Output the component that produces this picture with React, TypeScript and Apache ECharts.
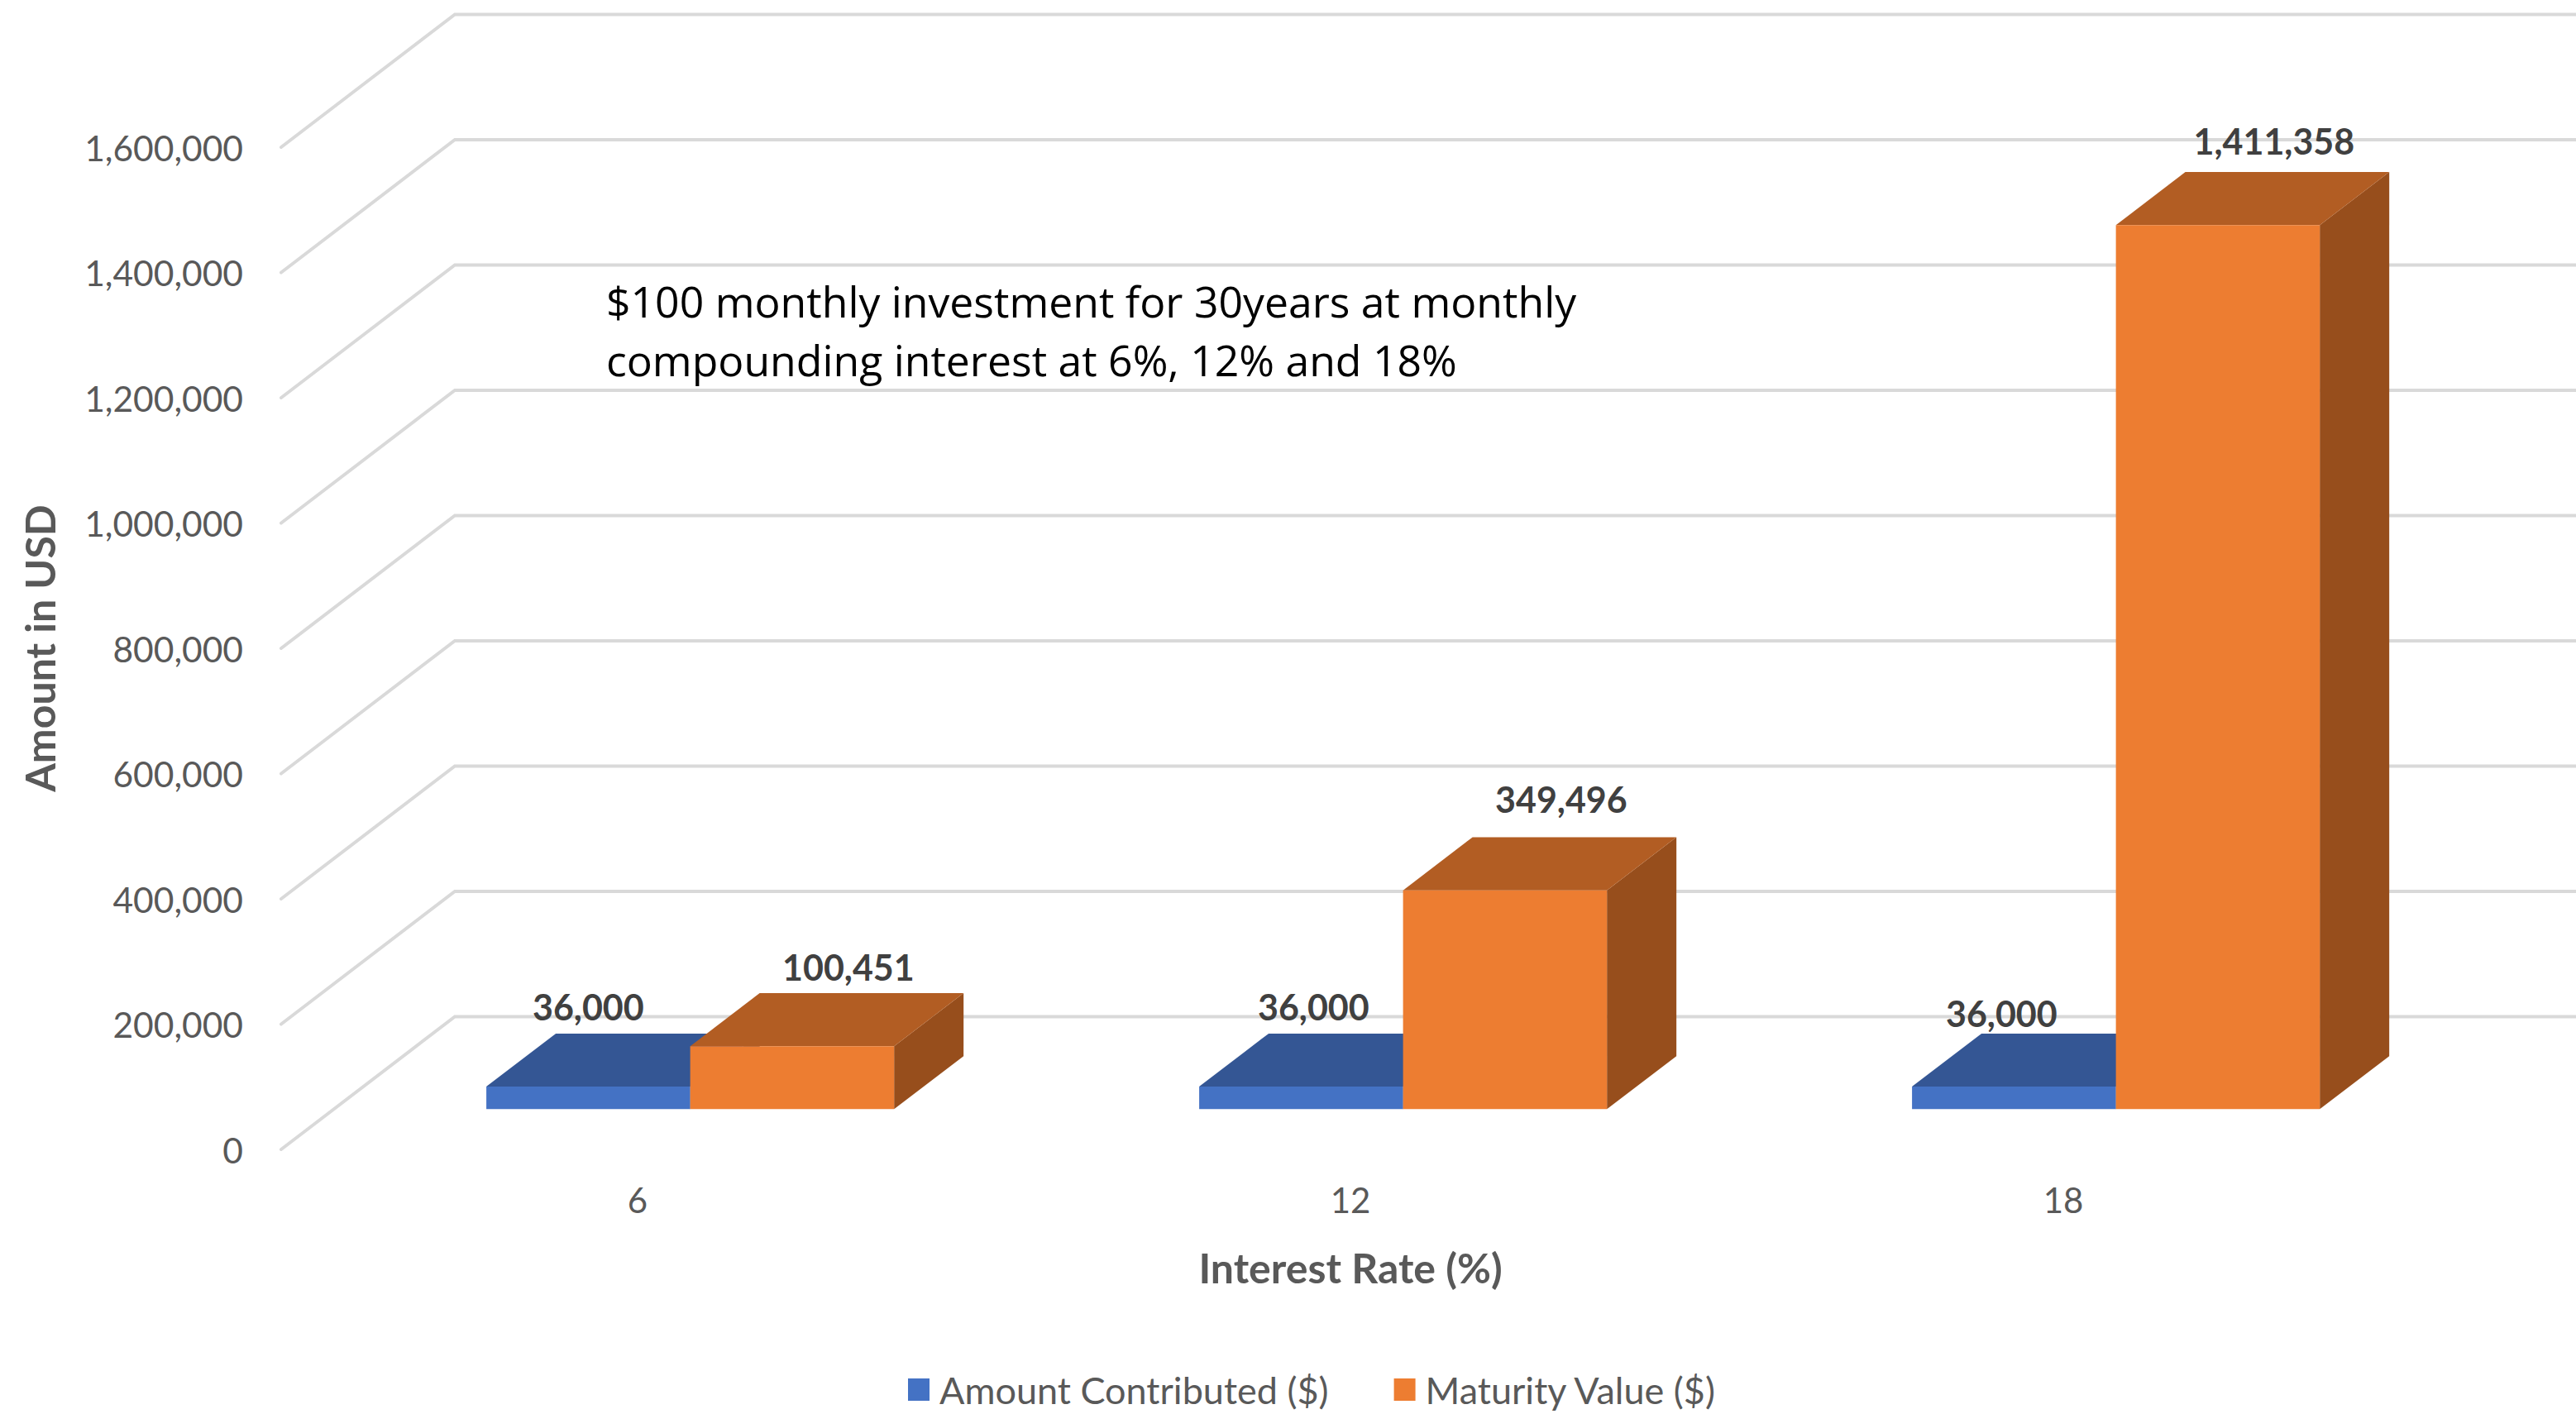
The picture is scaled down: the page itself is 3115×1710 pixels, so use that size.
import React, { useEffect, useRef } from "react";
import * as echarts from "echarts";

const rates = ["6", "12", "18"];
const amountContributed = [36000, 36000, 36000];
const maturityValue = [100451, 349496, 1411358];
const yTicks = [0, 200000, 400000, 600000, 800000, 1000000, 1200000, 1400000, 1600000];
const seriesNames = ["Amount Contributed ($)", "Maturity Value ($)"];
const noteLines = [
  "$100 monthly investment for 30years at monthly",
  "compounding interest at 6%, 12% and 18%",
];

const W = 3115;
const H = 1710;
const GRID = { left: 340, right: 2926, top: 178, bottom: 1390 };
const WALL_DX = 210;
const WALL_DY = 160.5;
const BAR_DEPTH = 0.4;
const BAR_START = 0.303;
const BAR_BAND = 0.286;
const FONT = "Lato, sans-serif";

const blue = { front: "#4472C4", top: "#345694", side: "#2A4779" };
const orange = { front: "#ED7D31", top: "#B25D23", side: "#974E1C" };

// hand-placed data-label nudges relative to the top-back edge of each bar
const blueLabelNudge = [[0, -32], [15, -32], [-15, -24]];
const orangeLabelNudge = [[68, -32], [68, -46], [68, -38]];

const fmt = (v: number) => v.toLocaleString("en-US");

function wallItem(_: any, api: any) {
  const v = api.value(1);
  const p = api.coord([0, v]);
  const y = p[1];
  return {
    type: "polyline",
    silent: true,
    shape: {
      points: [
        [GRID.left, y],
        [GRID.left + WALL_DX, y - WALL_DY],
        [W + 10, y - WALL_DY],
      ],
    },
    style: { stroke: "#D9D9D9", lineWidth: 4, fill: null, lineCap: "round", lineJoin: "miter" },
  };
}

function barItem(side: -1 | 0, colors: any, nudges: number[][]) {
  return (params: any, api: any) => {
    const idx = api.value(0);
    const v = api.value(1);
    const top = api.coord([idx, v]);
    const base = api.coord([idx, 0]);
    const band = api.size([1, 0])[0];
    const w = band * BAR_BAND;
    const ox = WALL_DX * BAR_START;
    const oy = WALL_DY * BAR_START;
    const dx = WALL_DX * BAR_DEPTH;
    const dy = WALL_DY * BAR_DEPTH;
    const x0 = top[0] + ox + side * w;
    const x1 = x0 + w;
    const y0 = top[1] - oy;
    const y1 = base[1] - oy;
    const n = nudges[params.dataIndex];
    return {
      type: "group",
      children: [
        { type: "polygon", shape: { points: [[x1, y0], [x1 + dx, y0 - dy], [x1 + dx, y1 - dy], [x1, y1]] }, style: { fill: colors.side } },
        { type: "polygon", shape: { points: [[x0, y0], [x0 + dx, y0 - dy], [x1 + dx, y0 - dy], [x1, y0]] }, style: { fill: colors.top } },
        { type: "rect", shape: { x: x0, y: y0, width: w, height: y1 - y0 }, style: { fill: colors.front } },
        {
          type: "text",
          z2: 10,
          style: {
            text: fmt(v),
            x: (x0 + x1) / 2 + n[0],
            y: y0 - dy + n[1],
            align: "center",
            verticalAlign: "middle",
            fill: "#404040",
            fontFamily: FONT,
            fontSize: 43,
            fontWeight: "bold",
          },
        },
      ],
    };
  };
}

export default function App() {
  const ref = useRef<HTMLDivElement>(null);
  useEffect(() => {
    document.body.style.margin = "0";
    document.body.style.overflow = "hidden";
    const chart = echarts.init(ref.current!, null, { renderer: "svg", width: W, height: H });
    chart.setOption({
      animation: false,
      backgroundColor: "#FFFFFF",
      textStyle: { fontFamily: FONT },
      grid: {
        left: GRID.left,
        top: GRID.top,
        width: GRID.right - GRID.left,
        height: GRID.bottom - GRID.top,
        containLabel: false,
      },
      legend: {
        data: seriesNames,
        left: 1098,
        top: 1658,
        padding: 0,
        icon: "rect",
        itemWidth: 26,
        itemHeight: 27,
        itemGap: 79,
        selectedMode: false,
        textStyle: { fontFamily: FONT, fontSize: 45, color: "#595959", padding: [0, 0, 0, 7] },
      },
      xAxis: {
        type: "category",
        data: rates,
        axisLine: { show: false },
        axisTick: { show: false },
        axisLabel: { fontFamily: FONT, fontSize: 42, color: "#595959", margin: 40 },
        name: "Interest Rate (%)",
        nameLocation: "middle",
        nameGap: 118,
        nameTextStyle: { fontFamily: FONT, fontSize: 50, fontWeight: "bold", color: "#595959" },
      },
      yAxis: {
        type: "value",
        min: 0,
        max: 1600000,
        interval: 200000,
        splitLine: { show: false },
        axisLine: { show: false },
        axisTick: { show: false },
        axisLabel: { fontFamily: FONT, fontSize: 42.5, color: "#595959", margin: 46, formatter: (v: number) => fmt(v) },
        name: "Amount in USD",
        nameLocation: "middle",
        nameGap: 267,
        nameTextStyle: { fontFamily: FONT, fontSize: 50, fontWeight: "bold", color: "#595959" },
      },
      series: [
        {
          type: "custom",
          name: "walls",
          silent: true,
          clip: false,
          z: 1,
          data: yTicks.map((v) => [0, v]),
          renderItem: wallItem,
        },
        {
          type: "custom",
          name: seriesNames[0],
          clip: false,
          z: 2,
          itemStyle: { color: blue.front },
          encode: { x: 0, y: 1 },
          data: amountContributed.map((v, i) => [i, v]),
          renderItem: barItem(-1, blue, blueLabelNudge),
        },
        {
          type: "custom",
          name: seriesNames[1],
          clip: false,
          z: 3,
          itemStyle: { color: orange.front },
          encode: { x: 0, y: 1 },
          data: maturityValue.map((v, i) => [i, v]),
          renderItem: barItem(0, orange, orangeLabelNudge),
        },
      ],
      graphic: [
        {
          type: "text",
          left: 733,
          top: 328,
          z: 20,
          style: {
            text: noteLines.join("\n"),
            fill: "#000000",
            fontFamily: "'Open Sans', sans-serif",
            fontSize: 51.7,
            lineHeight: 71,
          },
        },
      ],
    });
    return () => chart.dispose();
  }, []);
  return <div ref={ref} style={{ position: "absolute", left: 0, top: 0, width: W, height: H }} />;
}
